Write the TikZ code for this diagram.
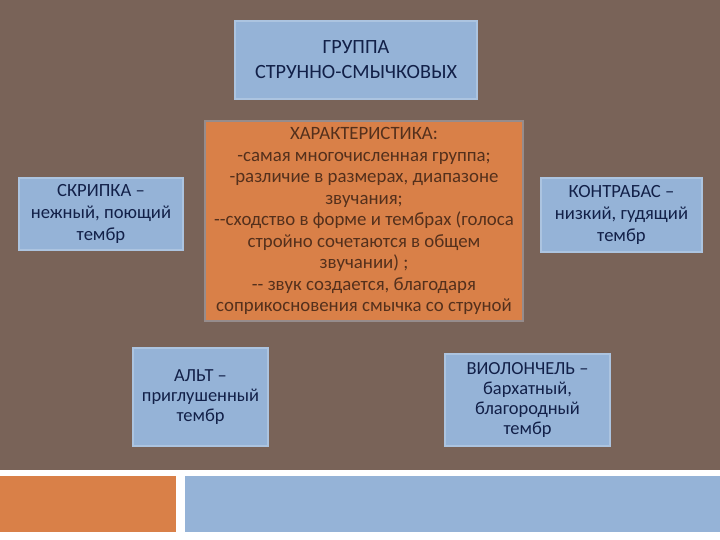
\documentclass[tikz,border=0pt]{standalone}
\usepackage{fontspec}
\setmainfont{Carlito}
\usepackage{tikz}

\definecolor{bgbrown}{RGB}{121,99,88}
\definecolor{boxblue}{RGB}{149,179,215}
\definecolor{boxedge}{RGB}{172,196,224}
\definecolor{boxorange}{RGB}{217,128,72}
\definecolor{orangeedge}{RGB}{150,140,140}
\definecolor{navytext}{RGB}{18,32,72}
\definecolor{browntext}{RGB}{84,48,28}

\begin{document}
\begin{tikzpicture}[x=1bp, y=-1bp,
  bluebox/.style={draw=boxedge, line width=1.2bp, fill=boxblue, text=navytext, align=center, inner sep=0pt},
  orangebox/.style={draw=orangeedge, line width=1.2bp, fill=boxorange, text=browntext, align=center, inner sep=0pt}]
\useasboundingbox (0,0) rectangle (720,540);
\fill[bgbrown] (0,0) rectangle (720,470);
\fill[white] (0,470) rectangle (720,540);
\fill[boxorange] (0,476) rectangle (176,532);
\fill[boxblue] (185,476) rectangle (720,532);

\node[bluebox, minimum width=242bp, minimum height=78bp, font=\fontsize{20.3}{25}\selectfont] (group) at (356,60) {ГРУППА\\СТРУННО-СМЫЧКОВЫХ};

\node[orangebox, minimum width=318bp, minimum height=200bp, font=\fontsize{18.9}{21.6}\selectfont] (traits) at (364,221) {ХАРАКТЕРИСТИКА:\\-самая многочисленная группа;\\-различие в размерах, диапазоне\\звучания;\\-{}-сходство в форме и тембрах (голоса\\стройно сочетаются в общем\\звучании) ;\\-{}- звук создается, благодаря\\соприкосновения смычка со струной};

\node[bluebox, minimum width=164bp, minimum height=72bp, font=\fontsize{18.7}{22.5}\selectfont] (violin) at (101,214) {СКРИПКА –\\нежный, поющий\\тембр};

\node[bluebox, minimum width=161bp, minimum height=74bp, font=\fontsize{18.7}{22}\selectfont] (bass) at (621.5,215) {КОНТРАБАС –\\низкий, гудящий\\тембр};

\node[bluebox, minimum width=135bp, minimum height=98bp, font=\fontsize{18.5}{20}\selectfont] (viola) at (200.5,397) {АЛЬТ –\\приглушенный\\тембр};

\node[bluebox, minimum width=165bp, minimum height=92bp, font=\fontsize{18.5}{20}\selectfont] (cello) at (527.5,400) {ВИОЛОНЧЕЛЬ –\\бархатный,\\благородный\\тембр};
\end{tikzpicture}
\end{document}
